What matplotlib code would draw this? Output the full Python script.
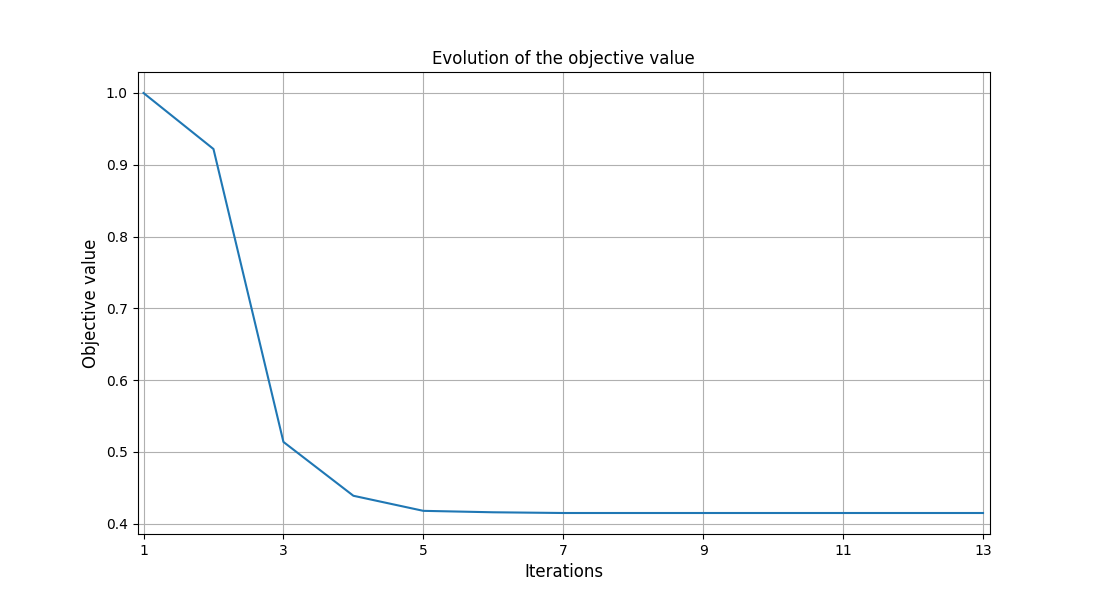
import matplotlib
matplotlib.use("Agg")
import matplotlib.pyplot as plt

iterations = [1, 2, 3, 4, 5, 6, 7, 8, 9, 10, 11, 12, 13]
objective = [1.0, 0.922, 0.514, 0.439, 0.418, 0.416, 0.415, 0.415, 0.415, 0.415, 0.415, 0.415, 0.415]

fig, ax = plt.subplots(figsize=(11, 6), dpi=100)
ax.plot(iterations, objective)
ax.set_xticks(iterations[::2])
ax.set_xlim(0.914, 13.1)
ax.set_xlabel("Iterations", fontsize=12)
ax.set_ylabel("Objective value", fontsize=12)
ax.set_title("Evolution of the objective value")
ax.grid(True)
fig.savefig("out.png")
